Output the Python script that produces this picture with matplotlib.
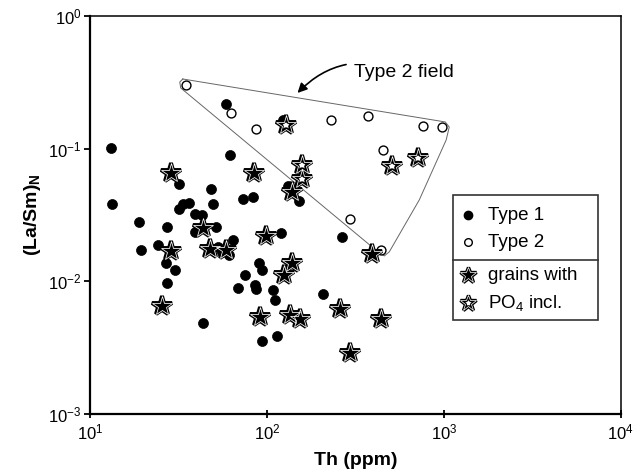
import matplotlib
matplotlib.use("Agg")
import matplotlib.pyplot as plt
from matplotlib.patches import Rectangle
from matplotlib.ticker import NullLocator, LogLocator

plt.rcParams['font.family'] = ['Liberation Sans', 'DejaVu Sans']
plt.rcParams['mathtext.fontset'] = 'custom'
plt.rcParams['mathtext.rm'] = 'Liberation Sans'
plt.rcParams['mathtext.it'] = 'Liberation Sans:italic'
plt.rcParams['mathtext.bf'] = 'Liberation Sans:bold'

# Th (ppm) vs chondrite-normalised La/Sm
type1_th = [13.1, 13.3, 18.9, 27.2, 31.8, 31.8, 33.5, 36.2, 39.1, 42.8, 39.1, 48.2,
            49.4, 51.4, 61.6, 72.9, 83.1, 58.5, 122.6, 130.9, 152.9, 119.5, 64.1,
            19.4, 24.2, 26.8, 30.2, 27.2, 43.4, 52.7, 55.5, 60.8, 74.9, 68.3, 85.2,
            86.4, 89.8, 93.3, 107.7, 110.5, 93.3, 113.4, 208.8, 267.3]
type1_lasm = [0.101, 0.0383, 0.0280, 0.0257, 0.0542, 0.0351, 0.0383, 0.0390, 0.0322,
              0.0317, 0.0236, 0.0497, 0.0383, 0.0257, 0.0896, 0.0418, 0.0433, 0.217,
              0.1645, 0.0523, 0.0404, 0.0232, 0.0205, 0.0172, 0.0188, 0.01376,
              0.01219, 0.00973, 0.00486, 0.0182, 0.0167, 0.0158, 0.01117, 0.00892,
              0.00939, 0.00877, 0.01376, 0.01219, 0.00861, 0.00724, 0.00356,
              0.00388, 0.00804, 0.0216]

type2_th = [34.8, 62.4, 86.4, 231.7, 374.7, 765.3, 979.5, 455.3, 296.6, 443.7, 157.0, 157.0]
type2_lasm = [0.302, 0.186, 0.141, 0.1645, 0.1764, 0.1483, 0.1457, 0.0978, 0.0295,
              0.0172, 0.0754, 0.0591]

# grains with PO4 inclusions
po4_type1_th = [28.6, 84.1, 139.6, 98.3, 43.4, 28.6, 47.5, 58.5, 25.5, 139.6, 125.8,
                90.9, 134.3, 154.9, 260.4, 443.7, 296.6, 394.7]
po4_type1_lasm = [0.0656, 0.0656, 0.0472, 0.0220, 0.0253, 0.0169, 0.0175, 0.0172,
                  0.00653, 0.01376, 0.01117, 0.00539, 0.00558, 0.00521, 0.00619,
                  0.00521, 0.00289, 0.0161]
po4_type2_th = [127.5, 157.0, 157.0, 511.7, 717.1]
po4_type2_lasm = [0.1509, 0.0754, 0.0591, 0.0741, 0.0851]

# outline of the Type 2 field
field_th = [33.5, 1018, 1073, 1031, 726.6, 492.0, 461.1, 432.0, 32.6, 32.2, 33.5]
field_lasm = [0.335, 0.159, 0.1457, 0.1163, 0.0411, 0.0167, 0.01554, 0.01637,
              0.2868, 0.318, 0.335]

fig = plt.figure(figsize=(6.42, 4.73), dpi=100)
ax = fig.add_axes([0.140, 0.1247, 0.827, 0.8415])
ax.set_xscale('log')
ax.set_yscale('log')
ax.set_xlim(10, 1e4)
ax.set_ylim(1e-3, 1)


def star(x, y, filled, ms, z):
    face = 'black' if filled else 'white'
    ax.plot(x, y, ls='none', marker='*', ms=ms, mfc=face, mec='black', mew=2.8,
            zorder=z, clip_on=False)
    ax.plot(x, y, ls='none', marker='*', ms=ms, mfc='none', mec='white', mew=0.55,
            zorder=z + 0.1, clip_on=False)


ax.plot(field_th, field_lasm, color='#666666', lw=0.7, zorder=1)

ax.plot(type1_th, type1_lasm, ls='none', marker='o', ms=7.2, mfc='black',
        mec='black', mew=0.5, zorder=2)
ax.plot(type2_th, type2_lasm, ls='none', marker='o', ms=6.4, mfc='white',
        mec='black', mew=1.0, zorder=2.5)
star(po4_type1_th, po4_type1_lasm, True, 15, 3)
star(po4_type2_th, po4_type2_lasm, False, 15, 3)

ax.annotate('Type 2 field', xy=(149.0, 0.263), xytext=(312, 0.372),
            fontsize=14, ha='left', va='center',
            arrowprops=dict(arrowstyle='-|>', color='black', lw=1.2,
                            mutation_scale=14, shrinkA=4, shrinkB=0,
                            connectionstyle='arc3,rad=0.35'))

# legend box with divider
ax.add_patch(Rectangle((0.684, 0.236), 0.273, 0.314, transform=ax.transAxes,
                       fill=False, ec='#333333', lw=1.2, zorder=5))
ax.plot([0.684, 0.957], [0.387, 0.387], transform=ax.transAxes, color='#333333',
        lw=1.2, zorder=5)
mx, tx = 0.712, 0.750
ax.plot(mx, 0.500, transform=ax.transAxes, marker='o', ms=6, mfc='black',
        mec='black', zorder=6)
ax.plot(mx, 0.432, transform=ax.transAxes, marker='o', ms=5.5, mfc='white',
        mec='black', mew=1.0, zorder=6)
for yy, filled in [(0.349, True), (0.279, False)]:
    face = 'black' if filled else 'white'
    ax.plot(mx, yy, transform=ax.transAxes, marker='*', ms=12, mfc=face,
            mec='black', mew=2.4, zorder=6)
    ax.plot(mx, yy, transform=ax.transAxes, marker='*', ms=12, mfc='none',
            mec='white', mew=0.5, zorder=6.1)
ax.text(tx, 0.500, 'Type 1', transform=ax.transAxes, fontsize=13.5, va='center')
ax.text(tx, 0.432, 'Type 2', transform=ax.transAxes, fontsize=13.5, va='center')
ax.text(tx, 0.349, 'grains with', transform=ax.transAxes, fontsize=13.5, va='center')
ax.text(tx, 0.279, r'PO$_4$ incl.', transform=ax.transAxes, fontsize=13.5, va='center')

# axes styling
for side in ['left', 'bottom']:
    ax.spines[side].set_linewidth(1.6)
for side in ['top', 'right']:
    ax.spines[side].set_linewidth(1.1)
ax.xaxis.set_major_locator(LogLocator(base=10, numticks=10))
ax.yaxis.set_major_locator(LogLocator(base=10, numticks=10))
ax.xaxis.set_minor_locator(NullLocator())
ax.yaxis.set_minor_locator(NullLocator())
ax.tick_params(axis='x', direction='inout', length=6, width=1.3, labelsize=12, pad=3)
ax.tick_params(axis='y', direction='out', length=4, width=1.3, labelsize=12, pad=2)

ax.set_xlabel('Th (ppm)', fontsize=14, fontweight='bold', labelpad=7)
ax.set_ylabel(r'(La/Sm)$_\mathbf{N}$', fontsize=14, fontweight='bold', labelpad=4)

fig.savefig('out.png', dpi=100)
